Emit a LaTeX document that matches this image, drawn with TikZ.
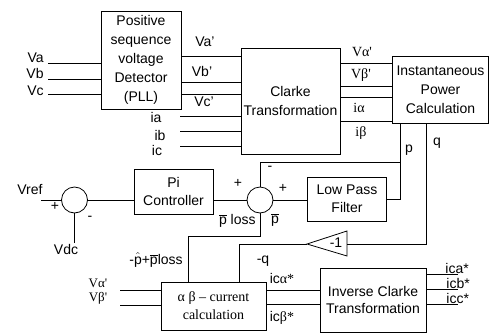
\documentclass[tikz,border=0pt]{standalone}
\usepackage{fontspec}
\setmainfont{Liberation Sans}
\newfontfamily\sr{Liberation Serif}
\newcommand{\pb}{$\overline{\mbox{p}}$}
\newcommand{\ph}{$\hat{\mbox{p}}$}
\begin{document}
\begin{tikzpicture}[x=1pt,y=-1pt,line width=0.8pt,
  font=\fontsize{14}{19}\selectfont,
  blk/.style={draw, align=center, inner sep=0pt},
  lbl/.style={inner sep=0pt},
  sumnode/.style={draw, circle, minimum size=26pt, inner sep=0pt}]
\useasboundingbox (0,0) rectangle (490,333);
% blocks
\node[blk, minimum width=80pt, minimum height=98pt] (pll) at (141,60) {Positive\\sequence\\voltage\\Detector\\(PLL)};
\node[blk, minimum width=99pt, minimum height=106pt] (clk) at (290.5,101) {Clarke\\Transformation};
\node[blk, minimum width=96pt, minimum height=67pt] (ipc) at (440.5,89.5) {Instantaneous\\Power\\Calculation};
\node[blk, minimum width=79pt, minimum height=45pt, font=\fontsize{14}{18}\selectfont] (pi) at (173.5,191.5) {Pi\\Controller};
\node[blk, minimum width=79pt, minimum height=44pt, font=\fontsize{14}{18}\selectfont] (lpf) at (347,199) {Low Pass\\Filter};
\node[blk, minimum width=105pt, minimum height=48pt, font=\sr\fontsize{14}{18}\selectfont] (ab) at (213.5,306) {α β – current\\calculation};
\node[blk, minimum width=106pt, minimum height=64pt, font=\fontsize{14}{17}\selectfont] (ict) at (373,300) {Inverse Clarke\\Transformation};
\node[sumnode] (s1) at (74.5,200) {};
\node[sumnode] (s2) at (260,200) {};
% gain triangle
\coordinate (tt) at (307,244);
\coordinate (tr) at (347,244);
\draw (tt) -- (347,231) -- (347,256) -- cycle;
\node[lbl] (gain) at (336,243) {-1};
% inputs to PLL
\coordinate (va) at (48,63);
\coordinate (vb) at (48,79);
\coordinate (vc) at (48,94);
\draw (va) -- (pll.west |- va);
\draw (vb) -- (pll.west |- vb);
\draw (vc) -- (pll.west |- vc);
\node[lbl, anchor=east] (lva) at (44,58) {Va};
\node[lbl, anchor=east] (lvb) at (44,73) {Vb};
\node[lbl, anchor=east] (lvc) at (44,91) {Vc};
% PLL to Clarke
\draw (pll.east |- 0,56) -- (clk.west |- 0,56);
\draw (pll.east |- 0,82) -- (clk.west |- 0,82);
\draw (pll.east |- 0,94) -- (clk.west |- 0,94);
\node[lbl] (lva2) at (205,42) {Va'};
\node[lbl] (lvb2) at (202,71) {Vb'};
\node[lbl] (lvc2) at (204,102) {Vc'};
% currents
\coordinate (ia) at (180,116);
\coordinate (ib) at (180,131);
\coordinate (ic) at (180,146);
\draw (ia) -- (clk.west |- ia);
\draw (ib) -- (clk.west |- ib);
\draw (ic) -- (clk.west |- ic);
\node[lbl] (lia) at (156,117) {ia};
\node[lbl] (lib) at (160,135) {ib};
\node[lbl] (lic) at (157,150) {ic};
% Clarke to IPC
\draw (clk.east |- 0,63) -- (ipc.west |- 0,63);
\draw (clk.east |- 0,86) -- (ipc.west |- 0,86);
\draw (clk.east |- 0,97) -- (ipc.west |- 0,97);
\draw (clk.east |- 0,121) -- (ipc.west |- 0,121);
\node[lbl, font=\sr\fontsize{14}{19}\selectfont] (lval) at (362,52) {Vα'};
\node[lbl, font=\sr\fontsize{14}{19}\selectfont] (lvbe) at (361,75) {Vβ'};
\node[lbl, font=\sr\fontsize{14}{19}\selectfont] (lial) at (359,108) {iα};
\node[lbl, font=\sr\fontsize{14}{19}\selectfont] (libe) at (361,133) {iβ};
% p and q
\draw (ipc.south -| 400,0) -- (400,199) -- (lpf.east |- 0,199);
\draw (400,162) -| (s2.north);
\draw (ipc.south -| 426,0) |- (tr);
\node[lbl] (lp) at (409,150) {p};
\node[lbl] (lq) at (437,143) {q};
% DC loop
\coordinate (vref) at (41,200);
\coordinate (vdc) at (74.5,243);
\draw (vref) -- (s1.west);
\draw (s1.south) -- (vdc);
\node[lbl] (lvref) at (30,189) {Vref};
\node[lbl, anchor=north] (lvdc) at (66,244) {Vdc};
\node[lbl] (p1) at (55,206) {+};
\node[lbl] (m1) at (90,218) {-};
\draw (s1.east) -- (pi.west |- s1.east);
\draw (pi.east |- s2.west) -- (s2.west);
\draw (s2.east) -- (lpf.west |- s2.east);
\node[lbl] (p2) at (238,183) {+};
\node[lbl] (m2) at (270,168) {-};
\node[lbl] (p3) at (283,188) {+};
\node[lbl] (lpbar) at (275,220) {\pb};
\node[lbl, anchor=east] (lploss) at (256,221) {\pb\ loss};
% to alpha-beta block
\draw (s2.south) |- (188,236) -- (ab.north -| 188,0);
\node[lbl] (lpl) at (156,260) {-\ph+\pb loss};
\draw (tt) -| (ab.north -| 239,0);
\node[lbl] (lmq) at (263,261) {-q};
\coordinate (aa) at (120,290);
\coordinate (bb) at (120,305);
\draw (aa) -- (ab.west |- aa);
\draw (bb) -- (ab.west |- bb);
\node[lbl, font=\sr\fontsize{13}{19}\selectfont] (lva3) at (98,283) {Vα'};
\node[lbl, font=\sr\fontsize{13}{19}\selectfont] (lvb3) at (98,298) {Vβ'};
% alpha-beta to inverse Clarke
\draw (ab.east |- 0,290) -- (ict.west |- 0,290);
\draw (ab.east |- 0,304) -- (ict.west |- 0,304);
\node[lbl] (lica) at (282,278) {ic{\sr α*}};
\node[lbl] (licb) at (282,318) {ic{\sr β*}};
% outputs
\coordinate (oa) at (458,274);
\coordinate (ob) at (458,289);
\coordinate (oc) at (458,304);
\draw (ict.east |- oa) -- (oa);
\draw (ict.east |- ob) -- (ob);
\draw (ict.east |- oc) -- (oc);
\node[lbl, anchor=south west] (loa) at (445,274) {ica*};
\node[lbl, anchor=south west] (lob) at (446,289) {icb*};
\node[lbl, anchor=south west] (loc) at (446,304) {icc*};
\end{tikzpicture}
\end{document}
